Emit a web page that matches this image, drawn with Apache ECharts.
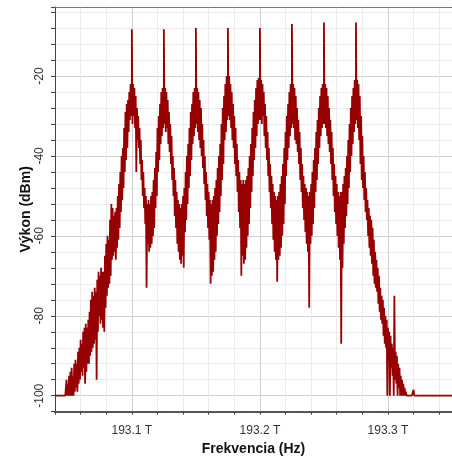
<!DOCTYPE html>
<html><head><meta charset="utf-8">
<script src="https://cdn.jsdelivr.net/npm/echarts@6/dist/echarts.min.js"></script>
<style>html,body{margin:0;padding:0;background:#fff}#c{width:452px;height:457px}</style>
</head><body><div id="c"></div>
<script>
// Spectrum trace: 1 GHz bins starting at 193.040 THz
const freqStartGHz = 193040;
const freqStepGHz = 1;
// upper edge of the trace band in each bin (dBm)
const envHigh = [
-100,-100,-100,-100,-100,-100,-100,-100,-100,-96,
-97,-95,-94,-93,-95,-92,-91,-92,-89,-88,
-86,-87,-84,-83,-82,-83,-81,-79,-76,-74,
-75,-73,-74,-71,-69,-70,-68,-69,-69,-65,
-62,-60,-61,-56,-52,-53,-55,-54,-53,-50,
-47,-44,-40,-38,-33,-29,-27,-26,-24,-22,
-21,-22,-23,-25,-28,-30,-33,-36,-41,-44,
-48,-50,-52,-51,-52,-50,-49,-46,-43,-39,
-33,-30,-27,-24,-23,-22.5,-23,-24,-26,-29,
-32,-35,-40,-43,-46,-49,-51,-52,-53,-52,
-50,-48,-44,-40,-37,-33,-29,-27,-24,-23,
-22.5,-23,-24,-26,-28,-32,-36,-40,-44,-47,
-49,-51,-52,-51,-50,-48,-46,-43,-40,-37,
-32,-28,-25,-22,-20,-19.5,-20,-22,-24,-27,
-30,-33,-37,-41,-44,-46,-47,-46,-47,-46,
-45,-43,-40,-37,-33,-29,-26,-23,-21,-20.5,
-20,-21,-22,-24,-27,-30,-34,-38,-42,-45,
-47,-49,-50,-51,-50,-49,-47,-45,-42,-38,
-34,-30,-27,-24,-22,-21.5,-22,-23,-25,-28,
-31,-34,-38,-42,-45,-47,-48,-49,-50,-49,
-47,-44,-41,-38,-34,-31,-28,-25,-23,-22,
-21.5,-22,-23,-25,-28,-31,-34,-38,-42,-45,
-47,-49,-50,-49,-49,-47,-45,-43,-40,-36,
-32,-28,-25,-23,-21,-20,-21,-22,-25,-30,
-35,-40,-44,-48,-51,-53,-55,-56,-58,-61,
-64,-66,-68,-70,-73,-75,-76,-78,-80,-81,
-83,-84,-85,-87,-88,-75,-89,-90,-92,-93,
-95,-96,-97,-98,-99,-100,-100,-100,-100,-100,
-98.5,-100,-100,-100,-100,-100,-100,-100,-100,-100,
-100,-100,-100,-100,-100,-100,-100,-100,-100,-100,
-100,-100,-100,-100,-100,-100,-100,-100,-100,-100,-100
];
// lower edge of the trace band in each bin (dBm)
const envLow = [
-100,-100,-100,-100,-100,-100,-100,-100,-100,-100,
-100,-100,-100,-100,-100,-99,-98,-99,-97,-96,
-94,-95,-93,-97,-94,-92,-92,-90,-89,-88,
-87,-86,-96,-84,-80,-82,-81,-83,-84,-78,
-75,-73,-72,-70,-66,-65,-64,-66,-63,-61,
-58,-54,-51,-48,-44,-41,-38,-34,-31,-30,
-32,-30,-33,-44,-36,-38,-42,-46,-50,-53,
-57,-73,-62,-64,-63,-62,-60,-58,-53,-50,
-44,-41,-37,-35,-33,-32,-34,-33,-37,-39,
-42,-46,-50,-55,-58,-62,-64,-66,-67,-65,
-68,-59,-56,-52,-48,-45,-41,-37,-35,-33,
-32,-34,-36,-38,-40,-43,-47,-51,-55,-58,
-61,-72,-70,-69,-66,-64,-60,-57,-54,-50,
-46,-42,-36,-34,-31,-30,-31,-33,-36,-38,
-42,-45,-49,-54,-58,-70,-65,-67,-66,-63,
-60,-57,-53,-49,-45,-41,-38,-35,-32,-31,
-31,-32,-30,-35,-38,-41,-45,-49,-53,-57,
-61,-64,-66,-71.5,-66,-65,-63,-60,-57,-52,
-45,-41,-38,-35,-33,-32,-33,-36,-37,-39,
-42,-46,-49,-53,-56,-59,-62,-64,-78,-62,
-60,-57,-53,-49,-46,-42,-38,-35,-33,-32,
-32,-33,-35,-37,-39,-42,-46,-50,-54,-57,
-60,-63,-66,-87,-68,-62,-58,-55,-52,-48,
-44,-40,-37,-34,-32,-31,-33,-36,-42,-46,
-48,-51,-54,-56,-60,-63,-65,-67,-70,-72,
-73,-74,-77,-79,-81,-82,-85,-87,-88,-100,
-91,-100,-93,-95,-100,-96,-97,-100,-98,-100,
-100,-100,-100,-100,-100,-100,-100,-100,-100,-100,
-100,-100,-100,-100,-100,-100,-100,-100,-100,-100,
-100,-100,-100,-100,-100,-100,-100,-100,-100,-100,
-100,-100,-100,-100,-100,-100,-100,-100,-100,-100,-100
];
// narrow carrier lines (GHz, dBm)
const carrierFreqs = [193100,193125,193150,193175,193200,193225,193250,193275];
const carrierPeaks = [-8.3,-8.3,-8.0,-8.0,-8.0,-7.0,-6.6,-6.6];
// tick labels
const xMajorTicks = [193100,193200,193300];
const yMajorTicks = [-20,-40,-60,-80,-100];

const pts = [];
for (let i = 0; i < envHigh.length; i++) {
  const f = freqStartGHz + i * freqStepGHz;
  pts.push([f, envHigh[i]]);
  pts.push([f + freqStepGHz / 2, envLow[i]]);
}
carrierFreqs.forEach((f, k) => pts.push([f, carrierPeaks[k]]));
pts.sort((a, b) => a[0] - b[0]);

const minorC = '#ebebeb', majorC = '#cfcfcf';
const FONT = 'Liberation Sans, Arial, sans-serif';
const chart = echarts.init(document.getElementById('c'), null, {renderer: 'canvas'});
chart.setOption({
  animation: false,
  backgroundColor: '#fff',
  grid: {left: 55, right: 0, top: 7, bottom: 45.3, containLabel: false, outerBoundsMode: 'none'},
  xAxis: [{
    type: 'value', min: 193040, max: 193350, interval: 20,
    name: 'Frekvencia (Hz)', nameLocation: 'middle', nameGap: 30,
    nameTextStyle: {fontFamily: FONT, fontSize: 14, fontWeight: 'bold', color: '#111'},
    axisLine: {show: true, onZero: false, lineStyle: {color: '#555', width: 2, type: [1.5, 1]}},
    axisTick: {show: true, length: 3, lineStyle: {color: '#444'}},
    axisLabel: {margin: 13, fontFamily: FONT, fontSize: 12, color: '#333',
      formatter: v => xMajorTicks.some(t => Math.abs(t - v) < 0.5) ? (v / 1000).toFixed(1) + ' T' : ''},
    splitLine: {show: true, lineStyle: {color: [minorC, minorC, minorC, majorC, minorC], width: 1}}
  }, {
    type: 'value', position: 'top', min: 193040, max: 193350,
    axisLine: {show: true, onZero: false, lineStyle: {color: '#666', width: 1, type: [1, 1]}},
    axisTick: {show: false}, axisLabel: {show: false}, splitLine: {show: false}
  }],
  yAxis: {
    type: 'value', min: -104, max: -2.73, interval: 4,
    name: 'Výkon (dBm)', nameLocation: 'middle', nameGap: 22, nameRotate: 90, nameMoveOverlap: false,
    nameTextStyle: {fontFamily: FONT, fontSize: 14, fontWeight: 'bold', color: '#111'},
    axisLine: {show: true, onZero: false, lineStyle: {color: '#444', width: 1}},
    axisTick: {show: true, length: 4, lineStyle: {color: '#444'}},
    axisLabel: {rotate: 90, margin: 9, fontFamily: FONT, fontSize: 12, color: '#333',
      formatter: v => yMajorTicks.some(t => Math.abs(t - v) < 0.01) ? String(Math.round(v)) : ''},
    splitLine: {show: true, lineStyle: {color: [minorC, majorC, minorC, minorC, minorC], width: 1}}
  },
  series: [{
    type: 'line', data: pts, xAxisIndex: 0, showSymbol: false, symbol: 'none',
    lineStyle: {color: '#960000', width: 1.8}, silent: true, clip: true
  }]
});
</script></body></html>
